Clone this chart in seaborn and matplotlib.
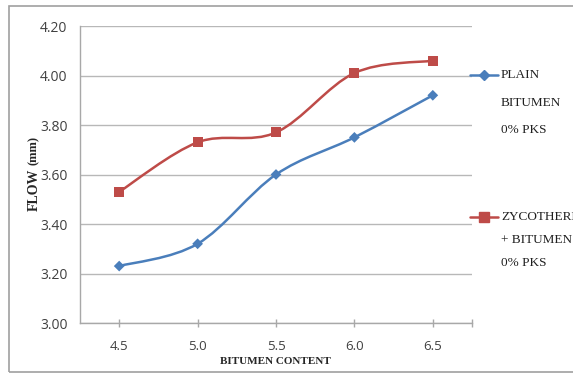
import numpy as np
import pandas as pd
import matplotlib
matplotlib.use("Agg")
import matplotlib.pyplot as plt
import seaborn as sns
from matplotlib.path import Path
from matplotlib.patches import PathPatch, Rectangle
from matplotlib.lines import Line2D

# Bitumen content (%) and measured flow (mm)
bitumen_content = ["4.5", "5.0", "5.5", "6.0", "6.5"]
flow_plain = [3.23, 3.32, 3.60, 3.75, 3.92]
flow_zycotherm = [3.53, 3.73, 3.77, 4.01, 4.06]
series_names = ["PLAIN\nBITUMEN\n0% PKS", "ZYCOTHERM\n+ BITUMEN\n0% PKS"]
y_ticks = [3.00, 3.20, 3.40, 3.60, 3.80, 4.00, 4.20]

blue = "#4A7EBB"
red = "#BE4B48"

df = pd.DataFrame({
    "content": bitumen_content * 2,
    "pos": list(range(len(bitumen_content))) * 2,
    "flow": flow_plain + flow_zycotherm,
    "series": [series_names[0]] * 5 + [series_names[1]] * 5,
})

sns.set_theme(style="white")
plt.rcParams["font.family"] = ["Open Sans", "DejaVu Sans"]

fig = plt.figure(figsize=(5.73, 3.74), dpi=100)
ax = fig.add_axes([80 / 573, 51 / 374, 392 / 573, 297 / 374])


def smooth_path(xs, ys):
    """Cubic Bezier through the points (Catmull-Rom style control points)."""
    pts = np.column_stack([xs, ys]).astype(float)
    verts = [pts[0]]
    codes = [Path.MOVETO]
    n = len(pts)
    for i in range(n - 1):
        p0 = pts[i - 1] if i > 0 else pts[i]
        p1 = pts[i]
        p2 = pts[i + 1]
        p3 = pts[i + 2] if i + 2 < n else pts[i + 1]
        c1 = p1 + (p2 - p0) / 6.0
        c2 = p2 - (p3 - p1) / 6.0
        verts += [c1, c2, p2]
        codes += [Path.CURVE4] * 3
    return Path(verts, codes)


for name, color in zip(series_names, [blue, red]):
    sub = df[df["series"] == name]
    ax.add_patch(PathPatch(smooth_path(sub["pos"], sub["flow"]),
                           facecolor="none", edgecolor=color, lw=1.8, zorder=3))

sns.scatterplot(data=df, x="pos", y="flow", hue="series", style="series",
                palette=[blue, red], markers=["D", "s"], s=38,
                edgecolor="none", legend=False, zorder=4, ax=ax)
# marker sizes per series
ax.collections[-1].set_sizes([30] * 5 + [52] * 5)

ax.set_xlim(-0.5, len(bitumen_content) - 0.5)
ax.set_ylim(3.0, 4.2)
ax.set_xticks(range(len(bitumen_content)))
ax.set_xticklabels(bitumen_content)
ax.set_xticks([len(bitumen_content) - 0.5], minor=True)
ax.set_yticks(y_ticks)
ax.set_yticklabels([f"{v:.2f}" for v in y_ticks])
ax.tick_params(axis="x", which="both", bottom=True, direction="inout",
               length=6, width=1, color="#A8A8A8", labelsize=9.5,
               labelcolor="#404040", pad=9)
ax.tick_params(axis="y", left=False, length=0, labelsize=10,
               labelcolor="#404040", pad=9)

ax.grid(axis="y", color="#B8B8B8", lw=1)
ax.grid(axis="x", visible=False)
for s in ["top", "right"]:
    ax.spines[s].set_visible(False)
for s in ["left", "bottom"]:
    ax.spines[s].set_color("#A8A8A8")
    ax.spines[s].set_linewidth(1)

ax.set_xlabel("")
ax.set_ylabel("")
fig.text(275 / 573, 1 - 361 / 374, "BITUMEN CONTENT", ha="center", va="center",
         family=["Liberation Serif"], weight="bold", fontsize=8)
fig.text(34 / 573, 1 - 190 / 374, "FLOW", rotation=90, ha="center",
         va="center", family=["Liberation Serif"], weight="bold", fontsize=10)
fig.text(34 / 573, 1 - 150 / 374, "(mm)", rotation=90, ha="center",
         va="center", family=["Liberation Serif"], weight="bold", fontsize=9)

# legend on the right
legend_rows = [(75, blue, "D", 5, ["PLAIN", "BITUMEN", "0% PKS"], 27.5),
               (217, red, "s", 7, ["ZYCOTHERM", "+ BITUMEN", "0% PKS"], 23)]
for y0, color, mk, ms, lines, step in legend_rows:
    yf = 1 - y0 / 374
    fig.add_artist(Line2D([470 / 573, 498 / 573], [yf, yf], color=color, lw=1.8,
                          transform=fig.transFigure))
    fig.add_artist(Line2D([484 / 573], [yf], color=color, marker=mk,
                          markersize=ms, markeredgecolor=color, lw=0,
                          transform=fig.transFigure))
    for k, line in enumerate(lines):
        fig.text(501 / 573, 1 - (y0 + k * step) / 374, line, ha="left",
                 va="center", family=["Liberation Serif"], fontsize=9.5,
                 color="#202020")

fig.add_artist(Rectangle((9 / 573, 2 / 374), 1.0, 366 / 374, fill=False,
                         edgecolor="#A0A0A0", lw=1.2, transform=fig.transFigure))

fig.savefig("out.png", dpi=100)
